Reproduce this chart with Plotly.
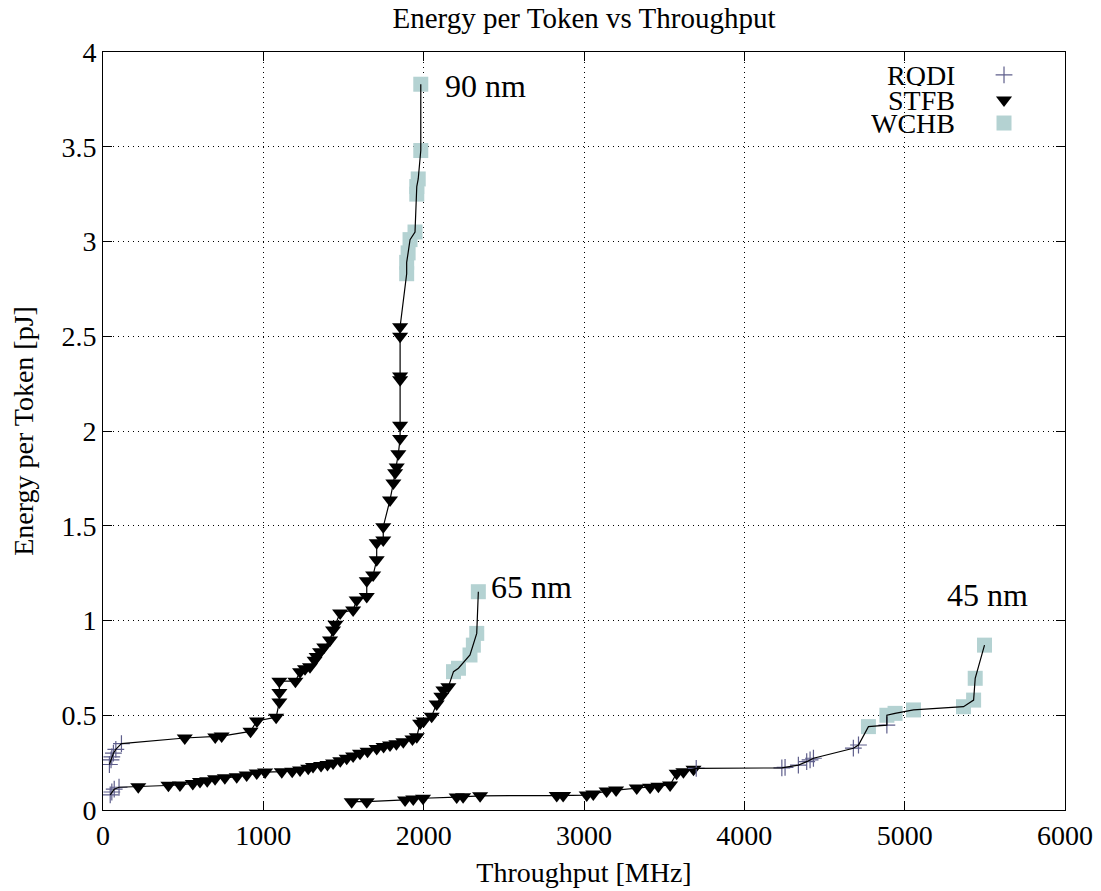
import plotly.graph_objects as go

# ---------------- data (Throughput [MHz], Energy per Token [pJ]) ----------------
# 90 nm
rqdi90_x = [40, 50, 55, 65, 80, 115]
rqdi90_y = [0.24, 0.265, 0.28, 0.30, 0.32, 0.35]
stfb90_x = [510, 700, 740, 920, 960, 1080, 1100, 1100, 1100, 1200, 1229, 1260, 1291, 1320,
            1333, 1354, 1380, 1416, 1435, 1450, 1479, 1560, 1582, 1645, 1645, 1685, 1707,
            1707, 1748, 1748, 1790, 1811, 1822, 1832, 1842, 1853, 1853, 1853, 1853, 1853, 1853]
stfb90_y = [0.38, 0.385, 0.39, 0.415, 0.47, 0.49, 0.57, 0.62, 0.68, 0.68, 0.73, 0.745, 0.756,
            0.79, 0.81, 0.835, 0.86, 0.897, 0.95, 0.98, 1.04, 1.055, 1.108, 1.126, 1.21, 1.24,
            1.32, 1.41, 1.425, 1.495, 1.636, 1.725, 1.78, 1.81, 1.88, 1.96, 2.03, 2.27, 2.29,
            2.50, 2.55]
wchb90_x = [1894, 1894, 1903, 1915, 1946, 1957, 1957, 1966, 1982, 1982]
wchb90_y = [2.83, 2.89, 2.94, 3.01, 3.05, 3.25, 3.29, 3.33, 3.48, 3.83]

# 65 nm
rqdi65_x = [45, 55, 70, 100]
rqdi65_y = [0.08, 0.095, 0.11, 0.12]
stfb65_x = [220, 408, 480, 560, 605, 650, 699, 760, 834, 896, 959, 1011, 1115, 1180, 1229,
            1280, 1310, 1360, 1400, 1435, 1480, 1520, 1560, 1603, 1650, 1707, 1750, 1790,
            1830, 1873, 1930, 1957, 1978, 2000, 2050, 2081, 2110, 2123, 2154]
stfb65_y = [0.123, 0.13, 0.132, 0.14, 0.15, 0.155, 0.165, 0.17, 0.176, 0.185, 0.195, 0.2,
            0.202, 0.205, 0.211, 0.22, 0.229, 0.235, 0.24, 0.248, 0.26, 0.273, 0.285, 0.30,
            0.31, 0.325, 0.335, 0.343, 0.35, 0.36, 0.375, 0.387, 0.458, 0.47, 0.495, 0.56,
            0.60, 0.633, 0.65]
wchb65_x = [2186, 2217, 2289, 2310, 2331, 2341]
wchb65_y = [0.73, 0.748, 0.818, 0.87, 0.932, 1.152]

# 45 nm
stfb45_x = [1551, 1645, 1884, 1935, 1996, 2206, 2246, 2352, 2830, 2870, 3017, 3058, 3141,
            3200, 3329, 3412, 3464, 3537, 3578, 3620, 3683]
stfb45_y = [0.044, 0.044, 0.053, 0.058, 0.062, 0.068, 0.07, 0.075, 0.076, 0.077, 0.079,
            0.085, 0.10, 0.105, 0.116, 0.12, 0.125, 0.132, 0.194, 0.202, 0.215]
rqdi45_x = [3700, 4234, 4254, 4337, 4389, 4410, 4431, 4680, 4712, 4889]
rqdi45_y = [0.22, 0.222, 0.225, 0.237, 0.255, 0.265, 0.273, 0.326, 0.343, 0.448]
wchb45_x = [4774, 4889, 4940, 5055, 5367, 5430, 5440, 5498]
wchb45_y = [0.44, 0.50, 0.51, 0.528, 0.545, 0.58, 0.695, 0.87]

series_names = ["RQDI", "STFB", "WCHB"]
node_labels = ["90 nm", "65 nm", "45 nm"]
label_pos_x = [2120, 2408, 5253]
label_pos_y = [3.82, 1.177, 1.135]

# ---------------- styles ----------------
FONT = "Liberation Serif"
C_RQDI = "#5f5f8c"
C_STFB = "#000000"
C_WCHB = "#b4d2d2"
styles = {
    "RQDI": dict(symbol="cross-thin", size=12, color=C_RQDI, line=dict(color=C_RQDI, width=1.2)),
    "STFB": dict(symbol="triangle-down", size=14, color=C_STFB, line=dict(width=0)),
    "WCHB": dict(symbol="square", size=15, color=C_WCHB, line=dict(width=0)),
}

fig = go.Figure()

nodes = [
    {"RQDI": (rqdi90_x, rqdi90_y), "STFB": (stfb90_x, stfb90_y), "WCHB": (wchb90_x, wchb90_y)},
    {"RQDI": (rqdi65_x, rqdi65_y), "STFB": (stfb65_x, stfb65_y), "WCHB": (wchb65_x, wchb65_y)},
    {"STFB": (stfb45_x, stfb45_y), "RQDI": (rqdi45_x, rqdi45_y), "WCHB": (wchb45_x, wchb45_y)},
]

# markers
for node in nodes:
    for name in ["WCHB", "STFB", "RQDI"]:
        if name in node:
            xs, ys = node[name]
            fig.add_trace(go.Scatter(x=xs, y=ys, mode="markers", marker=styles[name],
                                     showlegend=False, hoverinfo="x+y", name=name))

# connecting lines (all points of a node, ordered by energy)
for node in nodes:
    pts = []
    for name, (xs, ys) in node.items():
        pts += list(zip(xs, ys))
    pts.sort(key=lambda p: (p[1], p[0]))
    fig.add_trace(go.Scatter(x=[p[0] for p in pts], y=[p[1] for p in pts], mode="lines",
                             line=dict(color="black", width=1.2), showlegend=False,
                             hoverinfo="skip"))

# custom gnuplot-style legend (text left, symbol right) on a helper axis
leg_y = [0.9697, 0.9367, 0.9063]
for name, ly in zip(series_names, leg_y):
    st = dict(styles[name])
    fig.add_trace(go.Scatter(x=[0.9366], y=[ly], xaxis="x2", yaxis="y2", mode="markers",
                             marker=st, showlegend=False, hoverinfo="skip"))
    fig.add_annotation(x=0.8877, y=ly, xref="paper", yref="paper", text=name,
                       showarrow=False, xanchor="right", yanchor="middle", height=22,
                       font=dict(family=FONT, size=28, color="black"))

for txt, lx, ly in zip(node_labels, label_pos_x, label_pos_y):
    fig.add_annotation(x=lx, y=ly, text=txt, showarrow=False, xanchor="left",
                       yanchor="middle", font=dict(family=FONT, size=32, color="black"))

axis_common = dict(showline=True, linecolor="black", linewidth=1, mirror="allticks",
                   ticks="inside", ticklen=9, tickwidth=1, tickcolor="black",
                   showgrid=True, gridcolor="black", gridwidth=1, griddash="1px,4px",
                   zeroline=False, tickfont=dict(family=FONT, size=28, color="black"))

fig.update_layout(
    width=1101, height=891,
    margin=dict(l=103, r=36, t=52, b=81, autoexpand=False),
    paper_bgcolor="white", plot_bgcolor="white",
    font=dict(family=FONT, size=28, color="black"),
    title=dict(text="Energy per Token vs Throughput", x=0.5, xref="paper",
               y=1 - 18 / 891, yref="container", yanchor="middle",
               font=dict(family=FONT, size=29, color="black")),
    xaxis=dict(range=[0, 6000], dtick=1000, tick0=0,
               title=dict(text="Throughput [MHz]", standoff=12,
                          font=dict(family=FONT, size=28)), **axis_common),
    yaxis=dict(range=[0, 4], dtick=0.5, tick0=0,
               title=dict(text="Energy per Token [pJ]", standoff=19,
                          font=dict(family=FONT, size=28)), **axis_common),
    xaxis2=dict(range=[0, 1], overlaying="x", visible=False, fixedrange=True),
    yaxis2=dict(range=[0, 1], overlaying="y", visible=False, fixedrange=True),
    showlegend=False,
)

fig.write_html("out.html", config={"displayModeBar": False},
               post_script="document.body.style.margin='0';document.body.style.padding='0';")
